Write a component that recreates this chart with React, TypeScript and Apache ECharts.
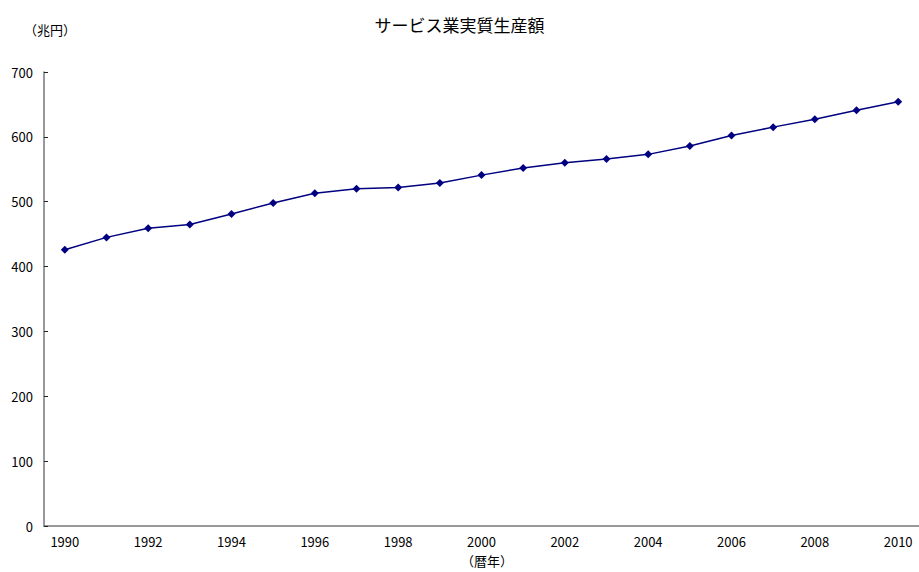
import React, { useEffect, useRef } from "react";
import * as echarts from "echarts";

const years = [
  "1990", "1991", "1992", "1993", "1994", "1995", "1996", "1997", "1998", "1999", "2000",
  "2001", "2002", "2003", "2004", "2005", "2006", "2007", "2008", "2009", "2010",
];
const output = [
  426, 445, 459, 465, 481, 498, 513, 520, 522, 529, 541,
  552, 560, 566, 573, 586, 602, 615, 627, 641, 654,
];
const titleText = "サービス業実質生産額";
const yUnit = "（兆円）";
const xUnit = "（暦年）";

const FONT = "'Noto Sans CJK JP', 'Noto Sans', sans-serif";

export default function App() {
  const ref = useRef<HTMLDivElement>(null);
  useEffect(() => {
    if (!ref.current) return;
    const chart = echarts.init(ref.current, null, { renderer: "svg" });
    chart.setOption({
      animation: false,
      backgroundColor: "#ffffff",
      textStyle: { fontFamily: FONT },
      title: {
        text: titleText,
        left: "center",
        top: 11,
        textStyle: { fontSize: 17, fontWeight: "normal", color: "#000", fontFamily: FONT },
      },
      graphic: [
        {
          type: "text",
          left: 24,
          top: 23,
          style: { text: yUnit, fontSize: 13, fill: "#000", fontFamily: FONT },
        },
        {
          type: "text",
          left: 461,
          top: 554,
          style: { text: xUnit, fontSize: 13, fill: "#000", fontFamily: FONT },
        },
      ],
      grid: { left: 44, right: -2.6, top: 72, bottom: 46, containLabel: false },
      xAxis: {
        type: "category",
        data: years,
        boundaryGap: true,
        axisLine: { lineStyle: { color: "#777", width: 1.5 } },
        axisTick: { inside: true, length: 4, lineStyle: { color: "#222", width: 1 }, interval: 0 },
        axisLabel: { interval: 1, color: "#000", fontSize: 13, margin: 9, fontFamily: FONT },
        splitLine: { show: false },
      },
      yAxis: {
        type: "value",
        min: 0,
        max: 700,
        interval: 100,
        axisLine: { show: true, lineStyle: { color: "#777", width: 1.5 } },
        axisTick: { show: true, inside: true, length: 4, lineStyle: { color: "#222", width: 1 } },
        axisLabel: { color: "#000", fontSize: 13, margin: 11, fontFamily: FONT },
        splitLine: { show: false },
      },
      series: [
        {
          type: "line",
          data: output,
          symbol: "diamond",
          symbolSize: 8,
          lineStyle: { color: "#000080", width: 1.5 },
          itemStyle: { color: "#000080" },
        },
      ],
    });
    return () => chart.dispose();
  }, []);
  return (
    <div
      ref={ref}
      style={{ position: "fixed", left: 0, top: 0, width: 919, height: 572 }}
    />
  );
}
